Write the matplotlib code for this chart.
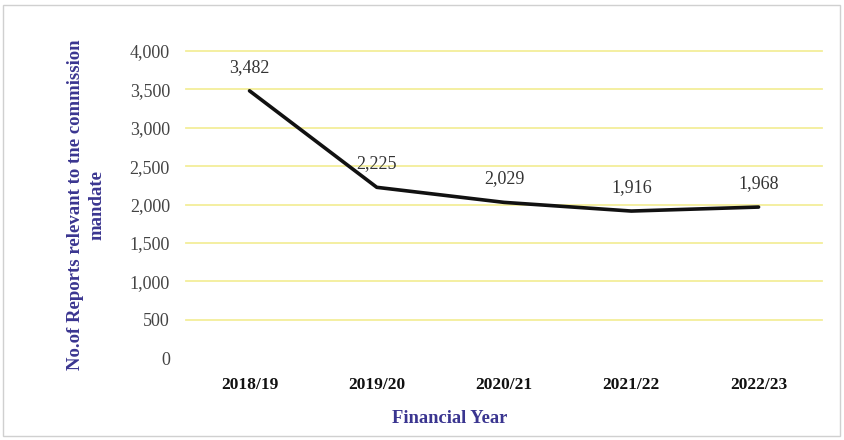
import matplotlib
matplotlib.use("Agg")
import matplotlib.pyplot as plt
from matplotlib.patches import Rectangle

years = ["2018/19", "2019/20", "2020/21", "2021/22", "2022/23"]
reports = [3482, 2225, 2029, 1916, 1968]
yticks = [0, 500, 1000, 1500, 2000, 2500, 3000, 3500, 4000]

plt.rcParams['font.family'] = ['Liberation Serif', 'DejaVu Serif']

fig = plt.figure(figsize=(8.45, 4.4), dpi=100)
ax = fig.add_axes([0.220, 0.186, 0.753, 0.698])

x = list(range(len(years)))
ax.plot(x, reports, color='#111111', lw=2.6, solid_capstyle='round', zorder=3)
for xi, v in zip(x, reports):
    ax.annotate(f"{v:,}", (xi, v), xytext=(0, 17), textcoords='offset points',
                ha='center', va='center', fontsize=13, color='#333333')

ax.set_xlim(-0.5, len(years) - 0.5)
ax.set_ylim(0, 4000)
ax.set_yticks(yticks)
ax.set_yticklabels([f"{t:,}" for t in yticks], fontsize=13, color='#444444')
ax.set_xticks(x)
ax.set_xticklabels(years, fontsize=12.5, fontweight='bold', color='#111111')
ax.tick_params(axis='both', length=0)
ax.tick_params(axis='y', pad=11.5)
ax.tick_params(axis='x', pad=13.5)
for s in ax.spines.values():
    s.set_visible(False)
for t in yticks[1:]:
    ax.axhline(t, color='#f3ee9a', lw=1.3, zorder=1, clip_on=False)

ax.set_xlabel("Financial Year", fontsize=13.3, fontweight='bold', color='#3a3590')
ax.xaxis.set_label_coords(0.415, -0.17)
ax.set_ylabel("No.of Reports relevant to tne commission\nmandate", fontsize=13.5,
              fontweight='bold', color='#3a3590', labelpad=17, linespacing=1.35)

fig.patches.append(Rectangle((0.004, 0.01), 0.99, 0.978, transform=fig.transFigure,
                             fill=False, edgecolor='#d0d0d0', lw=1.0))

fig.savefig("out.png", dpi=100)
